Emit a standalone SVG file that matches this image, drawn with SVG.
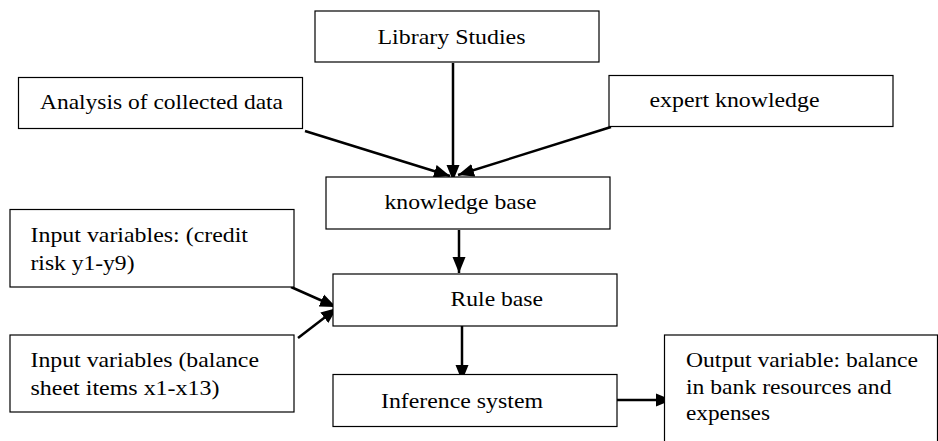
<svg xmlns="http://www.w3.org/2000/svg" width="938" height="441" viewBox="0 0 938 441">
<defs>
<style>
.box{fill:#fff;stroke:#000;stroke-width:1.2}
.t{font-size:21px;fill:#000}
.c{stroke:#000;stroke-width:2.5;fill:none;marker-end:url(#ah)}
</style>
<marker id="ah" markerUnits="userSpaceOnUse" markerWidth="17" markerHeight="14" viewBox="0 0 17 14" refX="16" refY="7" orient="auto">
<path d="M0,0.5 L16,7 L0,13.5 Z" fill="#000"/>
</marker>
</defs>
<rect width="938" height="441" fill="#fff"/>
<g id="connectors">
<line class="c" x1="453" y1="63" x2="453" y2="181"/>
<line class="c" x1="305" y1="131" x2="450" y2="176"/>
<line class="c" x1="611" y1="127" x2="458" y2="175"/>
<line class="c" x1="459" y1="230" x2="459" y2="273"/>
<line class="c" x1="291" y1="287" x2="336" y2="307"/>
<line class="c" x1="298" y1="338" x2="337" y2="308"/>
<line class="c" x1="462" y1="326" x2="462" y2="381"/>
<line class="c" x1="617" y1="400" x2="672" y2="400"/>
</g>
<g font-family="'Liberation Serif', 'Times New Roman', Times, serif">
<g id="library">
<rect class="box" x="315" y="11" width="284" height="51"/>
<text class="t" x="377.5" y="43.5" textLength="148" lengthAdjust="spacingAndGlyphs">Library Studies</text>
</g>
<g id="analysis">
<rect class="box" x="18.5" y="77.5" width="284" height="51"/>
<text class="t" x="40" y="108.5" textLength="243" lengthAdjust="spacingAndGlyphs">Analysis of collected data</text>
</g>
<g id="expert">
<rect class="box" x="609" y="75.5" width="284" height="51"/>
<text class="t" x="649.5" y="107" textLength="170" lengthAdjust="spacingAndGlyphs">expert knowledge</text>
</g>
<g id="knowledge-base">
<rect class="box" x="326" y="177" width="284" height="52"/>
<text class="t" x="384.5" y="208.5" textLength="152" lengthAdjust="spacingAndGlyphs">knowledge base</text>
</g>
<g id="input1">
<rect class="box" x="10" y="209.5" width="284" height="77.5"/>
<text class="t" x="30.5" y="241.5" textLength="217.5" lengthAdjust="spacingAndGlyphs">Input variables: (credit</text>
<text class="t" x="30.5" y="269.5" textLength="104" lengthAdjust="spacingAndGlyphs">risk y1-y9)</text>
</g>
<g id="rule-base">
<rect class="box" x="333" y="274" width="284" height="52"/>
<text class="t" x="450.5" y="305.5" textLength="92.5" lengthAdjust="spacingAndGlyphs">Rule base</text>
</g>
<g id="input2">
<rect class="box" x="10" y="335" width="284" height="77"/>
<text class="t" x="30.5" y="366.5" textLength="228.5" lengthAdjust="spacingAndGlyphs">Input variables (balance</text>
<text class="t" x="30.5" y="394.5" textLength="189" lengthAdjust="spacingAndGlyphs">sheet items x1-x13)</text>
</g>
<g id="inference">
<rect class="box" x="333" y="374.5" width="284" height="52"/>
<text class="t" x="381" y="407.5" textLength="162" lengthAdjust="spacingAndGlyphs">Inference system</text>
</g>
<g id="output">
<rect class="box" x="664.5" y="335" width="273" height="130"/>
<text class="t" x="686" y="366.5" textLength="232" lengthAdjust="spacingAndGlyphs">Output variable: balance</text>
<text class="t" x="686" y="394" textLength="205.5" lengthAdjust="spacingAndGlyphs">in bank resources and</text>
<text class="t" x="686" y="420" textLength="84" lengthAdjust="spacingAndGlyphs">expenses</text>
</g>
</g>
</svg>
